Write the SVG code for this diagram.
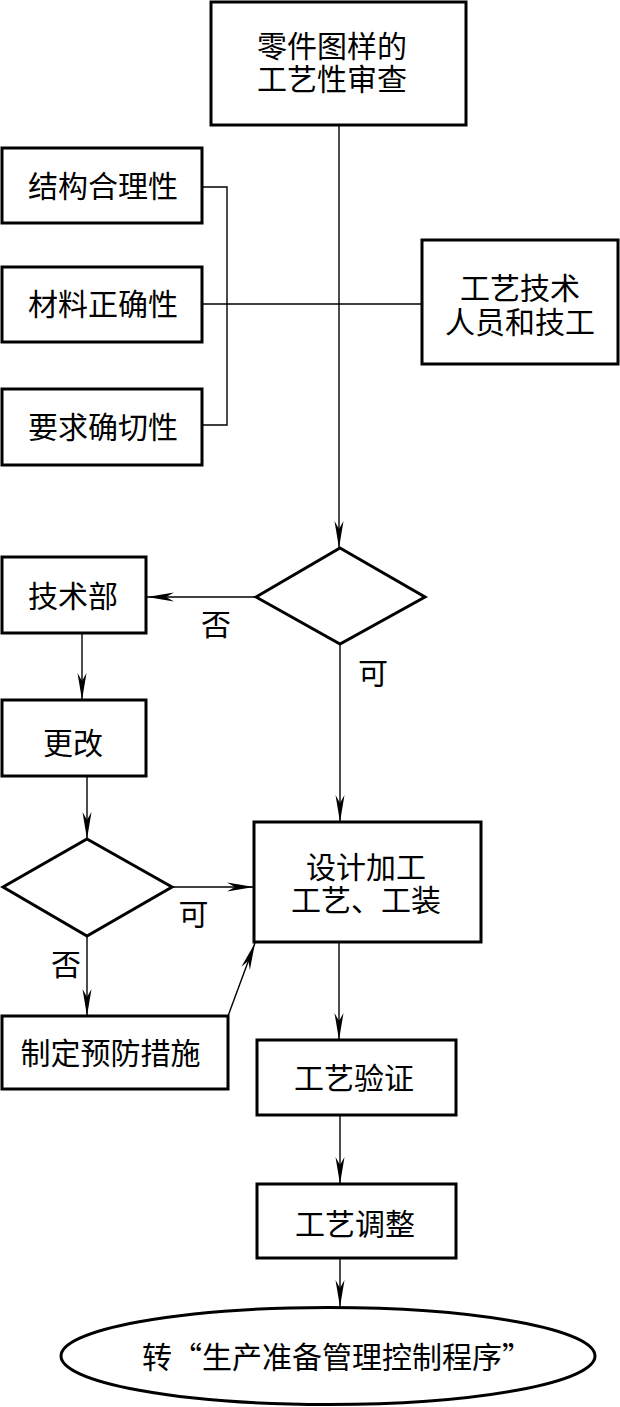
<svg xmlns="http://www.w3.org/2000/svg" width="620" height="1407" viewBox="0 0 620 1407">
<style>
.box{fill:#fff;stroke:#000;stroke-width:3}
.ln{fill:none;stroke:#000;stroke-width:1.4}
.t{font-family:"Noto Sans CJK SC","Noto Sans CJK JP",sans-serif;font-size:30px;fill:#000;text-anchor:middle}
</style>
<defs>
<marker id="ar" markerUnits="userSpaceOnUse" markerWidth="30" markerHeight="12" viewBox="-28 -6 30 12" refX="0" refY="0" orient="auto">
<path d="M0,0 L-27,-4.5 L-19,0 L-27,4.5 Z" fill="#000"/>
</marker>
</defs>
<rect width="620" height="1407" fill="#fff"/>
<g id="connectors">
<line class="ln" x1="339" y1="125" x2="339" y2="548" marker-end="url(#ar)"/>
<polyline class="ln" points="202,187 227,187 227,425 202,425"/>
<line class="ln" x1="202" y1="304" x2="422" y2="304"/>
<line class="ln" x1="256" y1="597" x2="147" y2="597" marker-end="url(#ar)"/>
<line class="ln" x1="340" y1="644" x2="340" y2="822" marker-end="url(#ar)"/>
<line class="ln" x1="82" y1="633" x2="82" y2="700" marker-end="url(#ar)"/>
<line class="ln" x1="87" y1="776" x2="87" y2="839" marker-end="url(#ar)"/>
<line class="ln" x1="172" y1="887" x2="254" y2="887" marker-end="url(#ar)"/>
<line class="ln" x1="87" y1="936" x2="87" y2="1016" marker-end="url(#ar)"/>
<line class="ln" x1="228" y1="1016" x2="255" y2="943" marker-end="url(#ar)"/>
<line class="ln" x1="339" y1="942" x2="339" y2="1040" marker-end="url(#ar)"/>
<line class="ln" x1="340" y1="1115" x2="340" y2="1184" marker-end="url(#ar)"/>
<line class="ln" x1="340" y1="1258" x2="340" y2="1307" marker-end="url(#ar)"/>
</g>
<g id="n-review"><rect class="box" x="211" y="2" width="255" height="123"/><text class="t" x="332" y="57">零件图样的</text><text class="t" x="332" y="89.5">工艺性审查</text></g>
<g id="n-struct"><rect class="box" x="2" y="148" width="200" height="75"/><text class="t" x="103" y="197">结构合理性</text></g>
<g id="n-material"><rect class="box" x="2" y="267" width="200" height="75"/><text class="t" x="103" y="314.5">材料正确性</text></g>
<g id="n-require"><rect class="box" x="2" y="389" width="200" height="76"/><text class="t" x="103" y="438">要求确切性</text></g>
<g id="n-staff"><rect class="box" x="422" y="240" width="196" height="124"/><text class="t" x="520" y="298.5">工艺技术</text><text class="t" x="520" y="332.5">人员和技工</text></g>
<g id="n-dec1"><polygon class="box" points="340,548 425,597 340,644 256,597"/></g>
<g id="n-tech"><rect class="box" x="2" y="557" width="144" height="76"/><text class="t" x="73" y="606.5">技术部</text></g>
<g id="n-change"><rect class="box" x="2" y="700" width="144" height="76"/><text class="t" x="73" y="753.5">更改</text></g>
<g id="n-design"><rect class="box" x="254" y="822" width="227" height="120"/><text class="t" x="366" y="877.5">设计加工</text><text class="t" x="366" y="911">工艺、工装</text></g>
<g id="n-dec2"><polygon class="box" points="87,839 172,887 87,936 3,887"/></g>
<g id="n-prevent"><rect class="box" x="2" y="1016" width="226" height="73"/><text class="t" x="110.5" y="1063.5">制定预防措施</text></g>
<g id="n-verify"><rect class="box" x="257" y="1040" width="199" height="75"/><text class="t" x="354" y="1088.5">工艺验证</text></g>
<g id="n-adjust"><rect class="box" x="257" y="1184" width="199" height="74"/><text class="t" x="355" y="1234.5">工艺调整</text></g>
<g id="n-end"><ellipse class="box" cx="328" cy="1356" rx="267" ry="48.5"/><text class="t" x="337" y="1367.5">转“生产准备管理控制程序”</text></g>
<g id="labels">
<text class="t" x="216" y="634.5">否</text>
<text class="t" x="373" y="683.5">可</text>
<text class="t" x="193.5" y="925">可</text>
<text class="t" x="66" y="975">否</text>
</g>
</svg>
